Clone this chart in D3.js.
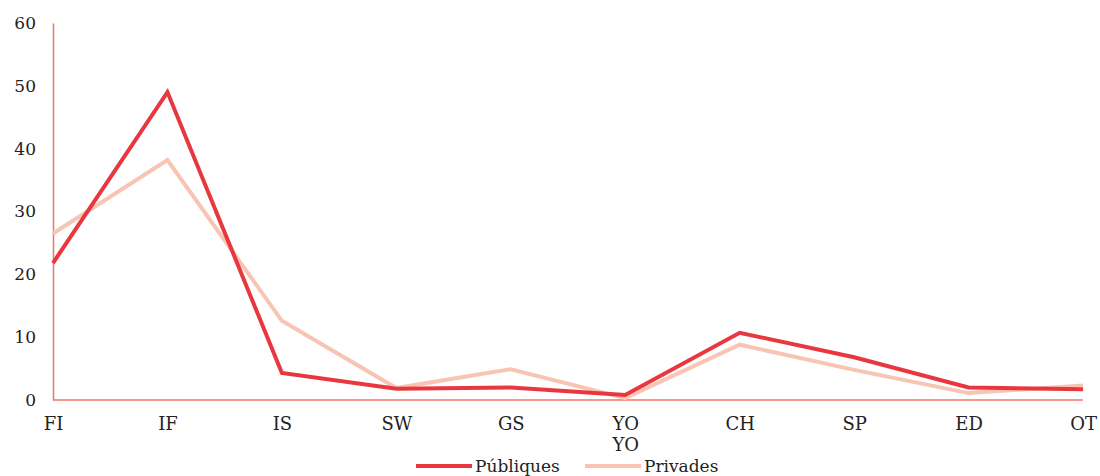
<!DOCTYPE html>
<html>
<head>
<meta charset="utf-8">
<script src="https://cdn.jsdelivr.net/npm/d3@7"></script>
<style>
  html, body { margin: 0; padding: 0; background: #fff; }
  svg { display: block; }
</style>
</head>
<body>
<svg id="chart" width="1100" height="476"></svg>
<script>
// Categories along the horizontal axis (second-line labels where present)
const categories = ["FI", "IF", "IS", "SW", "GS", "YO", "CH", "SP", "ED", "OT"];
const subLabels  = ["", "", "", "", "", "YO", "", "", "", ""];

// Series values (%)
const publiques = [21.8, 49.0, 4.3, 1.8, 2.0, 0.8, 10.7, 6.8, 2.0, 1.7];
const privades  = [26.5, 38.2, 12.6, 1.9, 4.9, 0.3, 8.8, 4.8, 1.1, 2.3];

const yTicks = [0, 10, 20, 30, 40, 50, 60];
const seriesNames = ["Públiques", "Privades"];
const seriesColors = ["#e8373f", "#f8c5b5"];

const FONT = "'DejaVu Serif', 'Liberation Serif', serif";
const svg = d3.select("#chart");
const plot = { left: 53, right: 1083, top: 23, bottom: 400 };

const x = d3.scalePoint().domain(categories).range([plot.left, plot.right]);
const y = d3.scaleLinear().domain([0, 60]).range([plot.bottom, plot.top]);

const axisColor = "#f2736a";

// Y axis (line + labels, no tick marks)
const yAxis = svg.append("g")
  .attr("transform", `translate(${plot.left},0)`)
  .call(d3.axisLeft(y).tickValues(yTicks).tickSize(0).tickPadding(17));
yAxis.attr("font-family", FONT).attr("font-size", 17);
yAxis.select(".domain").attr("stroke", axisColor).attr("stroke-width", 1.5);
yAxis.selectAll("text").attr("fill", "#222");

// X axis
const xAxis = svg.append("g")
  .attr("transform", `translate(0,${plot.bottom})`)
  .call(d3.axisBottom(x).tickSize(0).tickPadding(17));
xAxis.attr("font-family", FONT).attr("font-size", 18);
xAxis.select(".domain").attr("stroke", axisColor).attr("stroke-width", 1.5)
  .attr("d", `M${plot.left},0H${plot.right}`);
xAxis.selectAll("text").attr("fill", "#222");
xAxis.selectAll(".tick").each(function (d, i) {
  if (subLabels[i]) {
    d3.select(this).append("text")
      .attr("y", 38)
      .attr("dy", "0.71em")
      .attr("text-anchor", "middle")
      .attr("fill", "#222")
      .text(subLabels[i]);
  }
});

// Lines
const line = d3.line()
  .x((d, i) => x(categories[i]))
  .y(d => y(d));

[privades, publiques].forEach((vals, k) => {
  const idx = k === 0 ? 1 : 0;
  svg.append("path")
    .datum(vals)
    .attr("fill", "none")
    .attr("stroke", seriesColors[idx])
    .attr("stroke-width", 4)
    .attr("stroke-linejoin", "miter")
    .attr("d", line);
});

// Legend
const legend = svg.append("g").attr("font-family", FONT).attr("font-size", 17);
const legendItems = [
  { name: seriesNames[0], color: seriesColors[0], x: 416 },
  { name: seriesNames[1], color: seriesColors[1], x: 585 }
];
legendItems.forEach(it => {
  legend.append("line")
    .attr("x1", it.x).attr("x2", it.x + 56)
    .attr("y1", 466).attr("y2", 466)
    .attr("stroke", it.color).attr("stroke-width", 4);
  legend.append("text")
    .attr("x", it.x + 59).attr("y", 472)
    .attr("fill", "#222")
    .text(it.name);
});
</script>
</body>
</html>
